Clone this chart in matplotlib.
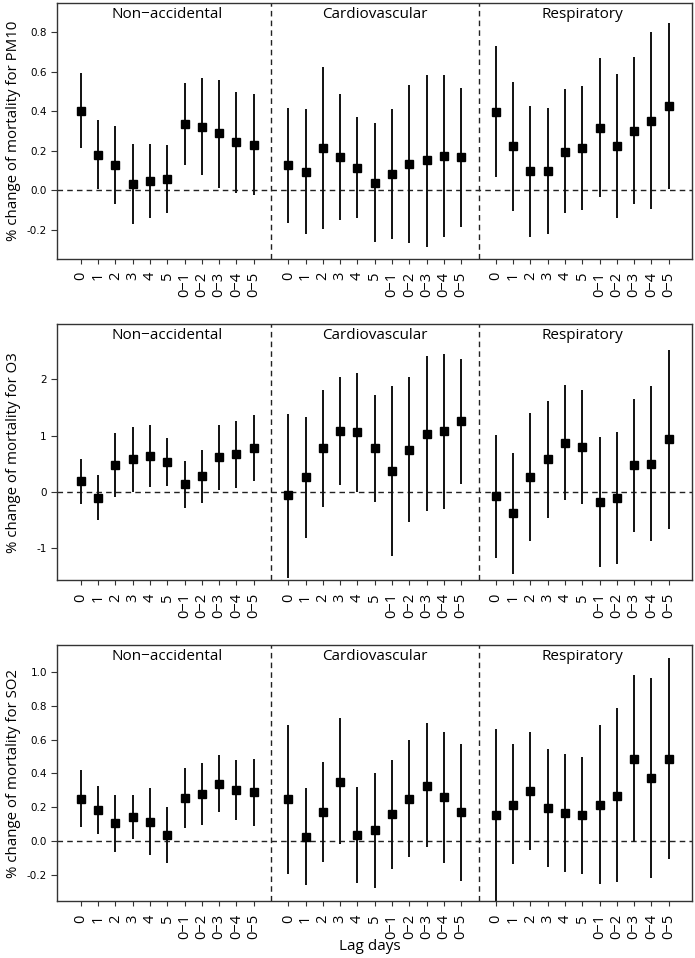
import matplotlib
matplotlib.use("Agg")
import matplotlib.pyplot as plt
import numpy as np

plt.rcParams['font.family'] = ['Open Sans', 'DejaVu Sans']

# ---------------- data ----------------
lags = ["0", "1", "2", "3", "4", "5", "0\u22121", "0\u22122", "0\u22123", "0\u22124", "0\u22125"]
outcomes = ["Non\u2212accidental", "Cardiovascular", "Respiratory"]
pollutants = ["PM10", "O3", "SO2"]

# PM10: estimate, lower, upper  (Non-accidental, Cardiovascular, Respiratory)
pm10_est = [0.404, 0.178, 0.127, 0.034, 0.049, 0.056, 0.335, 0.323, 0.288, 0.242, 0.228,
            0.127, 0.093, 0.213, 0.171, 0.115, 0.037, 0.083, 0.134, 0.151, 0.174, 0.169,
            0.399, 0.223, 0.095, 0.098, 0.196, 0.216, 0.318, 0.225, 0.301, 0.353, 0.428]
pm10_lo = [0.216, 0.005, -0.071, -0.171, -0.140, -0.113, 0.129, 0.079, 0.010, -0.012, -0.025,
           -0.164, -0.222, -0.198, -0.151, -0.139, -0.264, -0.245, -0.266, -0.288, -0.235, -0.184,
           0.066, -0.103, -0.238, -0.220, -0.118, -0.100, -0.032, -0.139, -0.071, -0.096, 0.008]
pm10_hi = [0.594, 0.357, 0.326, 0.235, 0.233, 0.228, 0.546, 0.568, 0.560, 0.497, 0.487,
           0.416, 0.411, 0.627, 0.487, 0.369, 0.340, 0.413, 0.533, 0.585, 0.585, 0.518,
           0.732, 0.550, 0.425, 0.416, 0.511, 0.529, 0.670, 0.590, 0.677, 0.800, 0.847]

o3_est = [0.189, -0.107, 0.473, 0.580, 0.633, 0.527, 0.142, 0.284, 0.615, 0.663, 0.781,
          -0.065, 0.260, 0.775, 1.083, 1.071, 0.781, 0.373, 0.751, 1.036, 1.077, 1.260,
          -0.083, -0.379, 0.266, 0.574, 0.876, 0.799, -0.178, -0.112, 0.473, 0.497, 0.941]
o3_lo = [-0.219, -0.503, -0.089, 0.000, 0.089, 0.107, -0.284, -0.195, 0.036, 0.065, 0.189,
         -1.527, -0.822, -0.266, 0.118, 0.000, -0.178, -1.136, -0.544, -0.349, -0.308, 0.142,
         -1.178, -1.462, -0.870, -0.462, -0.148, -0.213, -1.331, -1.284, -0.710, -0.870, -0.657]
o3_hi = [0.580, 0.290, 1.047, 1.148, 1.183, 0.953, 0.556, 0.751, 1.195, 1.260, 1.361,
         1.391, 1.331, 1.817, 2.041, 2.118, 1.722, 1.876, 2.041, 2.408, 2.456, 2.367,
         1.006, 0.698, 1.396, 1.609, 1.893, 1.817, 0.976, 1.065, 1.657, 1.876, 2.527]

so2_est = [0.249, 0.181, 0.103, 0.142, 0.112, 0.036, 0.254, 0.276, 0.339, 0.300, 0.288,
           0.247, 0.024, 0.168, 0.351, 0.034, 0.063, 0.156, 0.249, 0.327, 0.258, 0.170,
           0.154, 0.213, 0.294, 0.193, 0.166, 0.150, 0.211, 0.268, 0.485, 0.373, 0.485]
so2_lo = [0.079, 0.039, -0.065, 0.012, -0.087, -0.130, 0.073, 0.091, 0.172, 0.126, 0.087,
          -0.195, -0.264, -0.126, -0.022, -0.249, -0.278, -0.170, -0.099, -0.039, -0.130, -0.237,
          -0.400, -0.140, -0.057, -0.156, -0.183, -0.197, -0.258, -0.247, -0.006, -0.219, -0.110]
so2_hi = [0.418, 0.323, 0.272, 0.272, 0.314, 0.201, 0.434, 0.462, 0.507, 0.477, 0.487,
          0.688, 0.312, 0.464, 0.726, 0.316, 0.404, 0.481, 0.596, 0.696, 0.643, 0.574,
          0.665, 0.572, 0.647, 0.544, 0.515, 0.497, 0.684, 0.785, 0.980, 0.963, 1.083]

yticks_pm10 = [-0.2, 0.0, 0.2, 0.4, 0.6, 0.8]
yticks_o3 = [-1, 0, 1, 2]
yticks_so2 = [-0.2, 0.0, 0.2, 0.4, 0.6, 0.8, 1.0]

# ---------------- figure ----------------
fig = plt.figure(figsize=(6.95, 9.58), dpi=100)

panels = [
    (pollutants[0], pm10_est, pm10_lo, pm10_hi, yticks_pm10, "%.1f", (-0.347, 0.949), 0.7300),
    (pollutants[1], o3_est, o3_lo, o3_hi, yticks_o3, "%d", (-1.568, 2.976), 0.3946),
    (pollutants[2], so2_est, so2_lo, so2_hi, yticks_so2, "%.1f", (-0.357, 1.158), 0.0595),
]

ng = len(lags)
x = np.concatenate([np.arange(1, ng + 1) + g * (ng + 1) for g in range(len(outcomes))])
xlabels = lags * len(outcomes)
xmin, xmax = x.min(), x.max()
pad = 0.04 * (xmax - xmin)

for i, (pol, est, lo, hi, yt, fmt, ylim, bottom) in enumerate(panels):
    ax = fig.add_axes([0.0824, bottom, 0.9137, 0.2668])
    ax.set_xlim(xmin - pad, xmax + pad)
    ax.set_ylim(*ylim)
    ax.axhline(0, color='#222222', lw=1.0, ls=(0, (4, 3)), zorder=1)
    for g in range(1, len(outcomes)):
        ax.axvline(g * (ng + 1), color='#222222', lw=1.0, ls=(0, (4, 3)), zorder=1)
    ax.vlines(x, lo, hi, color='#111111', lw=1.4, zorder=2)
    ax.plot(x, est, 's', color='black', markersize=5.6, zorder=3)
    for g, name in enumerate(outcomes):
        cx = (ng + 1) / 2 + g * (ng + 1)
        ax.text(cx, 0.985, name, transform=ax.get_xaxis_transform(),
                ha='center', va='top', fontsize=11)
    ax.set_xticks(x)
    ax.set_xticklabels(xlabels, rotation=90, fontsize=10.5)
    ax.tick_params(axis='x', length=3.5, pad=6, width=0.8, color='#333333')
    ax.set_yticks(yt)
    ax.set_yticklabels([fmt % v for v in yt], family=['DejaVu Sans'])
    ax.tick_params(axis='y', length=4.5, pad=3, labelsize=7.5, width=0.8, color='#333333')
    for s in ax.spines.values():
        s.set_color('#333333')
        s.set_linewidth(1.0)
    ax.set_ylabel("% change of mortality for " + pol, fontsize=10.8)
    ax.yaxis.set_label_coords(-0.0575, 0.5)

fig.text(370 / 695, 1 - 947 / 958, "Lag days", ha='center', va='center', fontsize=11)

fig.savefig("out.png", dpi=100)
